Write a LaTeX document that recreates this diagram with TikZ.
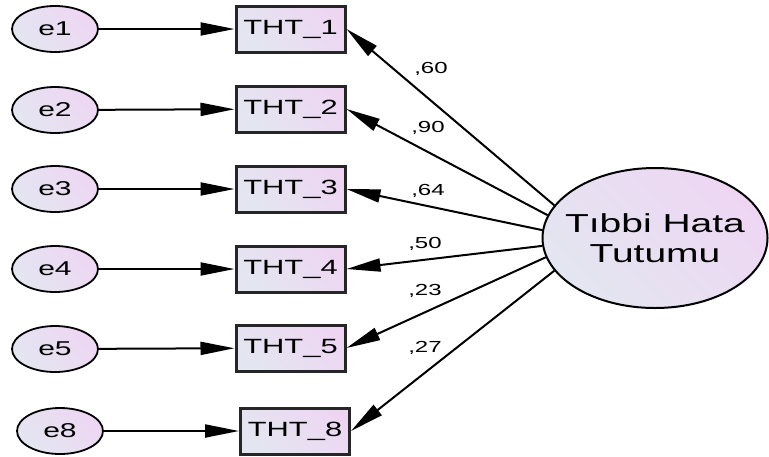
\documentclass[tikz,border=0pt]{standalone}
\usepackage{fontspec}
\newfontfamily\amosfont[FakeStretch=1.5]{Liberation Sans}
\usetikzlibrary{arrows.meta,shapes.geometric}

\definecolor{fillA}{RGB}{227,230,240}
\definecolor{fillB}{RGB}{238,214,243}

\tikzset{
  obsbox/.style={draw=black!85, line width=1.5pt, minimum width=54.5pt,
    minimum height=23pt, inner sep=0pt, left color=fillA, right color=fillB,
    shading angle=135, font=\amosfont\fontsize{10.3}{12}\selectfont},
  errnode/.style={ellipse, draw=black, line width=0.9pt, minimum width=43pt,
    minimum height=23pt, inner sep=0pt, left color=fillA, right color=fillB,
    shading angle=135, font=\amosfont\fontsize{10}{12}\selectfont},
  latent/.style={ellipse, draw=black, line width=1pt, minimum width=112.5pt,
    minimum height=70pt, inner xsep=-6pt, inner ysep=0pt, align=center,
    left color=fillA, right color=fillB, shading angle=135,
    font=\amosfont\fontsize{13}{15}\selectfont},
  path/.style={line width=1pt, -{Triangle[length=17pt,width=6.5pt]}},
  load/.style={font=\amosfont\fontsize{8}{10}\selectfont, inner sep=0pt},
}

\begin{document}
\begin{tikzpicture}[x=0.5pt, y=-0.5pt]
  \useasboundingbox (0,0) rectangle (769,456);

  % Latent factor
  \node[latent] (F) at (655,238) {T\i bbi Hata\\Tutumu};

  % Observed items
  \node[obsbox] (b1) at (290.5,29) {THT\_1};
  \node[obsbox] (b2) at (290.5,109) {THT\_2};
  \node[obsbox] (b3) at (290.5,189) {THT\_3};
  \node[obsbox] (b4) at (290.5,269) {THT\_4};
  \node[obsbox] (b5) at (290.5,348) {THT\_5};
  \node[obsbox] (b8) at (295,431) {THT\_8};

  % Error terms
  \node[errnode] (e1) at (55,29) {e1};
  \node[errnode] (e2) at (55,110) {e2};
  \node[errnode] (e3) at (55,189) {e3};
  \node[errnode] (e4) at (55,269) {e4};
  \node[errnode] (e5) at (55,349) {e5};
  \node[errnode] (e8) at (60,431) {e8};

  % Error paths
  \draw[path] (e1) -- (b1);
  \draw[path] (e2) -- (b2);
  \draw[path] (e3) -- (b3);
  \draw[path] (e4) -- (b4);
  \draw[path] (e5) -- (b5);
  \draw[path] (e8) -- (b8);

  % Factor loadings
  \draw[path] (F.162) -- (b1.east);
  \draw[path] (F.168) -- (b2.east);
  \draw[path] (F.176) -- (b3.east);
  \draw[path] (F.184) -- (b4.east);
  \draw[path] (F.190) -- (b5.east);
  \draw[path] (F.198) -- (b8.east);

  \node[load] (l1) at (431,69) {,60};
  \node[load] (l2) at (428,128) {,90};
  \node[load] (l3) at (428,191) {,64};
  \node[load] (l4) at (425,244) {,50};
  \node[load] (l5) at (425,291) {,23};
  \node[load] (l8) at (425,348) {,27};
\end{tikzpicture}
\end{document}
